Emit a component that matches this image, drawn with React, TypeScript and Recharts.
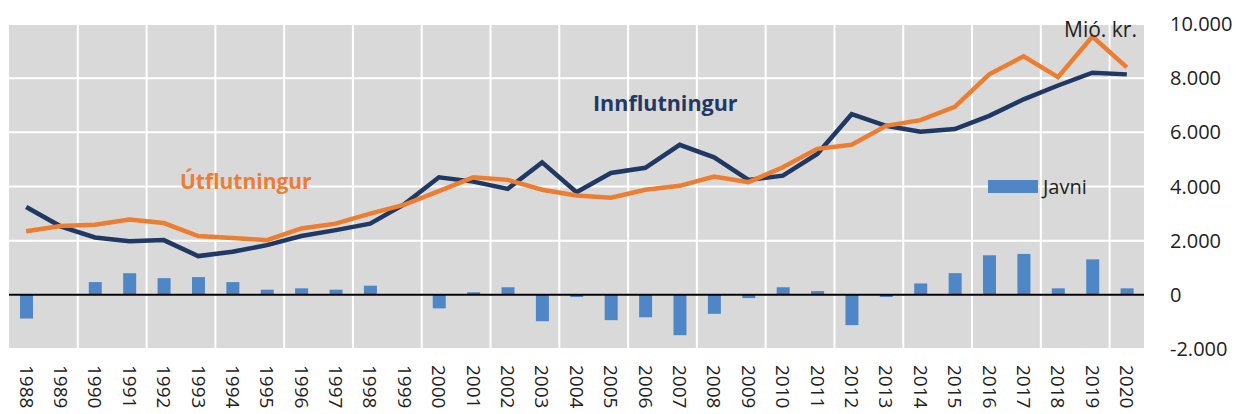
import React from 'react';
import { ComposedChart, Bar, Line, XAxis, YAxis, CartesianGrid, ReferenceLine } from 'recharts';

const years = [
  '1988', '1989', '1990', '1991', '1992', '1993', '1994', '1995', '1996', '1997', '1998',
  '1999', '2000', '2001', '2002', '2003', '2004', '2005', '2006', '2007', '2008', '2009',
  '2010', '2011', '2012', '2013', '2014', '2015', '2016', '2017', '2018', '2019', '2020',
];

// Mió. kr.
const innflutningur = [
  3240, 2530, 2120, 1980, 2020, 1430, 1590, 1835, 2170, 2390, 2630,
  3350, 4340, 4180, 3910, 4890, 3790, 4500, 4690, 5540, 5075, 4245,
  4400, 5200, 6670, 6240, 6020, 6120, 6610, 7220, 7730, 8200, 8140,
];

const utflutningur = [
  2350, 2540, 2590, 2780, 2650, 2170, 2100, 2020, 2450, 2630, 3000,
  3330, 3830, 4340, 4245, 3880, 3670, 3585, 3880, 4025, 4370, 4160,
  4710, 5390, 5540, 6240, 6450, 6940, 8140, 8810, 8040, 9540, 8400,
];

const javni = [
  -875, 0, 470, 800, 617, 655, 470, 190, 240, 190, 337,
  0, -500, 95, 280, -975, -80, -935, -830, -1490, -700, -120,
  280, 140, -1120, -80, 420, 800, 1460, 1510, 240, 1310, 240,
];

const yTicks = [-2000, 0, 2000, 4000, 6000, 8000, 10000];

const data = years.map((year, i) => ({
  year,
  innflutningur: innflutningur[i],
  utflutningur: utflutningur[i],
  javni: javni[i],
}));

const FONT = '"Open Sans", sans-serif';
const NAVY = '#1F3864';
const ORANGE = '#ED7D31';
const BLUE = '#4F86C6';

const fmt = (v: number) => String(v).replace(/\B(?=(\d{3})+(?!\d))/g, '.');

const YearTick = (props: any) => {
  const { x, y, payload } = props;
  return (
    <text
      transform={`translate(${x}, ${y + 8}) rotate(90)`}
      dy="0.35em"
      textAnchor="start"
      fontFamily={FONT}
      fontSize={19}
      fill="#222"
    >
      {payload.value}
    </text>
  );
};

const gridX = ({ offset }: any) => {
  const step = offset.width / years.length;
  const pts: number[] = [];
  for (let k = 2; k < years.length; k += 2) pts.push(offset.left + step * k);
  return pts;
};

export default function App() {
  return (
    <div style={{ position: 'relative', width: 1236, height: 414, overflow: 'hidden', background: '#fff' }}>
      <style>{'body{margin:0}'}</style>
      <ComposedChart width={1236} height={414} data={data} margin={{ top: 24, right: 0, bottom: 0, left: 9 }}>
        <CartesianGrid
          fill="#D9D9D9"
          stroke="#fff"
          strokeWidth={2}
          verticalCoordinatesGenerator={gridX}
        />
        <XAxis
          dataKey="year"
          interval={0}
          axisLine={false}
          tickLine={false}
          height={65}
          tick={<YearTick />}
        />
        <YAxis
          orientation="right"
          width={92}
          domain={[-2000, 10000]}
          ticks={yTicks}
          tickFormatter={fmt}
          axisLine={false}
          tickLine={false}
          tickMargin={20}
          tick={{ fontFamily: FONT, fontSize: 20, fill: '#222' }}
        />
        <Bar dataKey="javni" name="Javni" fill={BLUE} barSize={13} isAnimationActive={false} />
        <ReferenceLine y={0} stroke="#000" strokeWidth={2} />
        <Line type="linear" dataKey="innflutningur" stroke={NAVY} strokeWidth={4.5} dot={false} isAnimationActive={false} />
        <Line type="linear" dataKey="utflutningur" stroke={ORANGE} strokeWidth={4.5} dot={false} isAnimationActive={false} />
      </ComposedChart>
      <div style={{ position: 'absolute', left: 988, top: 173, display: 'flex', alignItems: 'center', fontFamily: FONT, fontSize: 20, color: '#222' }}>
        <div style={{ width: 50, height: 13, background: BLUE, marginRight: 5 }} />
        <span>Javni</span>
      </div>
      <div style={{ position: 'absolute', left: 180, top: 167, fontFamily: FONT, fontWeight: 700, fontSize: 21, color: ORANGE }}>
        Útflutningur
      </div>
      <div style={{ position: 'absolute', left: 593, top: 88, fontFamily: FONT, fontWeight: 700, fontSize: 21.5, color: NAVY }}>
        Innflutningur
      </div>
      <div style={{ position: 'absolute', left: 1064, top: 15, fontFamily: FONT, fontSize: 21, color: '#222' }}>
        Mió. kr.
      </div>
    </div>
  );
}
